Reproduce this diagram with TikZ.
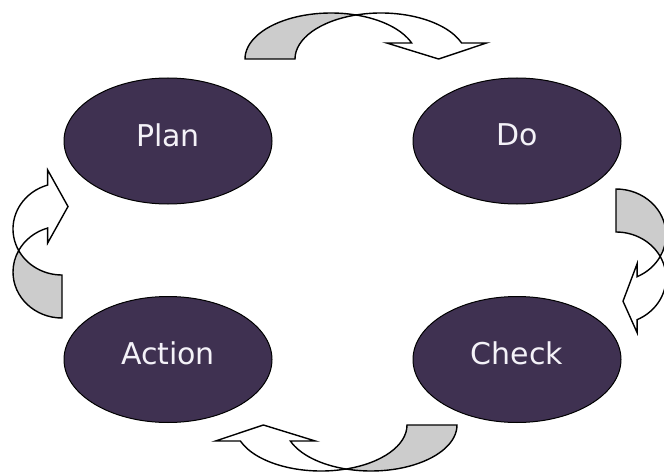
\documentclass[tikz,border=0pt]{standalone}
\usepackage{fontspec}
\setmainfont{DejaVu Sans}
\usetikzlibrary{shapes.geometric}
\definecolor{ellfill}{HTML}{3F3151}
\definecolor{backgray}{HTML}{CCCCCC}
\definecolor{txtwhite}{HTML}{F4F2F8}
\tikzset{
  phase/.style={ellipse, draw=black, line width=1pt, fill=ellfill,
    minimum width=208pt, minimum height=126pt, inner sep=0pt,
    text=txtwhite, font=\fontsize{30}{36}\selectfont, text depth=12pt},
  arrback/.style={fill=backgray, draw=black, line width=1.4pt},
  arrfront/.style={fill=white, draw=black, line width=1.4pt}
}
% curved arrow in a local frame: #1 along radius, #2 bulge radius, #3 shaft width,
% #4 end angle, #5 wing extension, #6 tip offset, #7 tip height
\newcommand\cvarrow[7]{%
 \pgfmathsetmacro\cvHd{#3/2}%
 \pgfmathsetmacro\cvCa{acos(\cvHd/#1)}%
 \pgfmathsetmacro\cvCb{180-\cvCa}%
 \pgfmathsetmacro\cvCy{#2*sin(\cvCa)}%
 \pgfmathsetmacro\cvEx{#1*cos(#4)}%
 \pgfmathsetmacro\cvEy{#2*sin(#4)}%
 \pgfmathsetmacro\cvNa{\cvEx-\cvHd}%
 \pgfmathsetmacro\cvNb{\cvEx+\cvHd}%
 \pgfmathsetmacro\cvWa{\cvNa-#5}%
 \pgfmathsetmacro\cvWb{\cvNb+#5}%
 \pgfmathsetmacro\cvTx{\cvEx+#6}%
 \pgfmathsetmacro\cvFo{-\cvHd-#1}%
 \filldraw[arrback] (\cvFo,0) arc[start angle=180,end angle=\cvCa,x radius=#1,y radius=#2]
   arc[start angle=\cvCb,end angle=180,x radius=#1,y radius=#2] -- cycle;
 \filldraw[arrfront] (0,\cvCy) arc[start angle=\cvCb,end angle=#4,x radius=#1,y radius=#2]
   -- (\cvWb,\cvEy) -- (\cvTx,#7) -- (\cvWa,\cvEy) -- (\cvNa,\cvEy)
   arc[start angle=#4,end angle=\cvCa,x radius=#1,y radius=#2] -- cycle;
}
\begin{document}
\begin{tikzpicture}[x=1pt,y=1pt]
\useasboundingbox (0,0) rectangle (664,475);
\fill[white] (0,0) rectangle (664,475);
% phases
\node[phase] (plan)   at (168,334)   {Plan};
\node[phase] (do)     at (517,334)   {Do};
\node[phase] (action) at (168,115.5) {Action};
\node[phase] (check)  at (517,115.5) {Check};
% curved arrows
\begin{scope}[shift={(356,416)}]
  \cvarrow{86}{46}{50}{20.4}{25}{2}{0}
\end{scope}
\begin{scope}[shift={(616,218.5)},rotate=-90]
  \cvarrow{46}{50}{43}{25}{13}{3}{7}
\end{scope}
\begin{scope}[shift={(346,50)},rotate=180]
  \cvarrow{86}{46}{50}{20.4}{25}{2}{0}
\end{scope}
\begin{scope}[shift={(62,224.5)},rotate=90]
  \cvarrow{46}{49}{43}{17}{15}{0}{-6}
\end{scope}
\end{tikzpicture}
\end{document}
